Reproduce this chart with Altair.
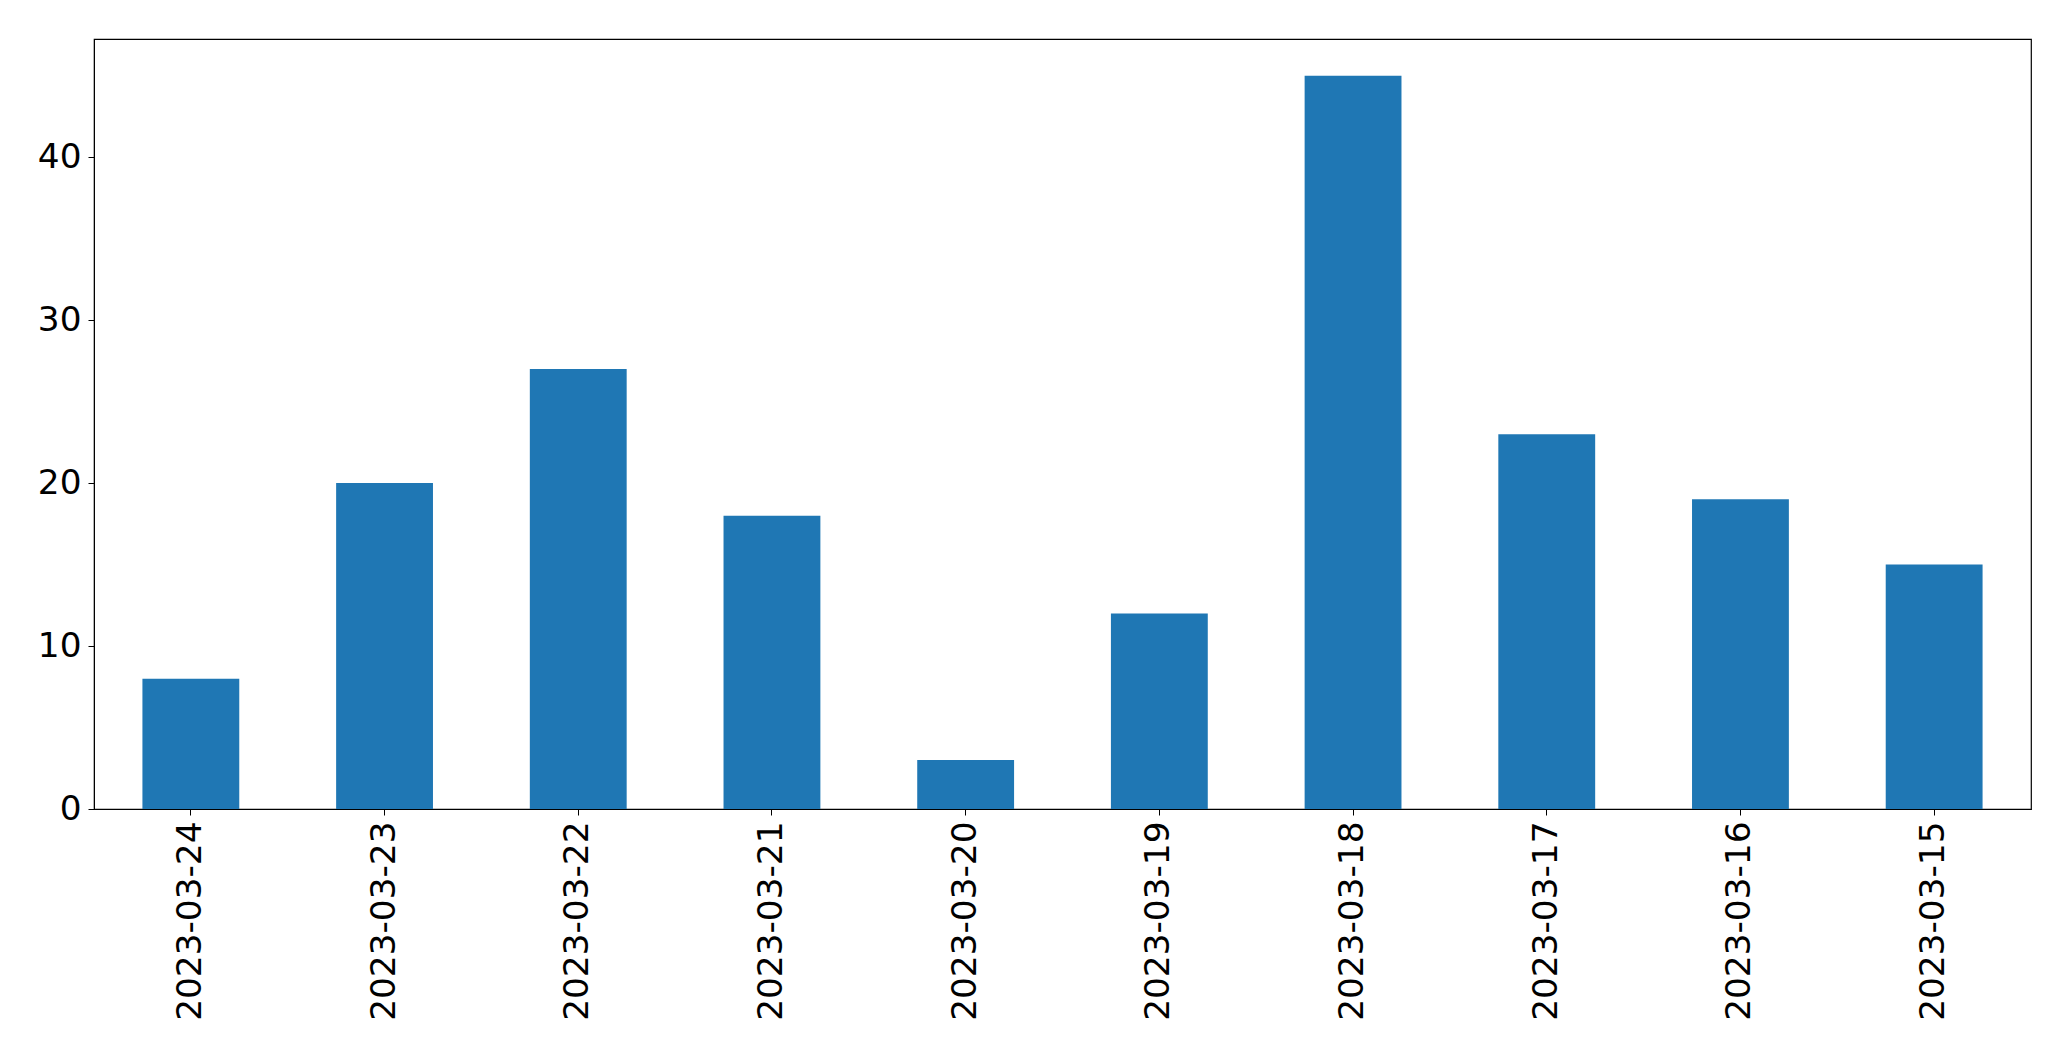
import altair as alt
import pandas as pd

dates = ["2023-03-24", "2023-03-23", "2023-03-22", "2023-03-21", "2023-03-20",
         "2023-03-19", "2023-03-18", "2023-03-17", "2023-03-16", "2023-03-15"]
counts = [8, 20, 27, 18, 3, 12, 45, 23, 19, 15]

df = pd.DataFrame({"date": dates, "count": counts})

FONT = "DejaVu Sans"

chart = alt.Chart(df).mark_bar(color="#1f77b4").encode(
    x=alt.X("date:N", sort=dates,
            scale=alt.Scale(paddingInner=0.5, paddingOuter=0.25),
            axis=alt.Axis(title=None, labelAngle=270, labelAlign="right",
                          labelBaseline="middle", labelFontSize=34.3,
                          labelFont=FONT, labelColor="black", labelLimit=0,
                          tickSize=6, tickColor="black", labelPadding=6,
                          domainColor="black", grid=False)),
    y=alt.Y("count:Q", scale=alt.Scale(domain=[0, 47.25], nice=False, zero=True),
            axis=alt.Axis(title=None, values=[0, 10, 20, 30, 40], labelFontSize=34.3,
                          labelFont=FONT, labelColor="black", labelLimit=0,
                          tickSize=6, tickColor="black", labelPadding=7,
                          domainColor="black", grid=False)),
).properties(
    width=1937, height=770,
    autosize=alt.AutoSizeParams(type="none"),
    padding={"left": 86, "top": 31, "right": 30, "bottom": 230},
).configure_view(
    stroke="black", strokeWidth=1.2
)

chart.save("out.html", embed_options={"renderer": "svg", "actions": False})
